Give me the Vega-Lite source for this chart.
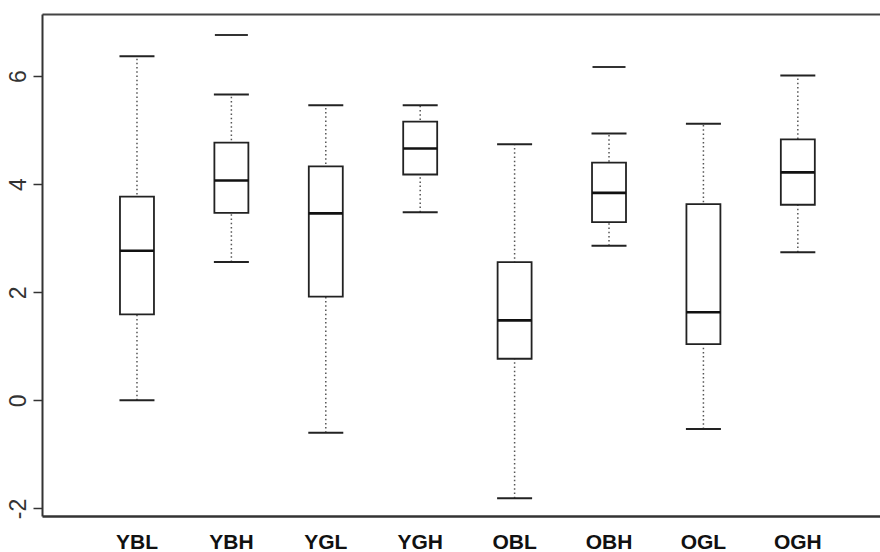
{
  "$schema": "https://vega.github.io/schema/vega-lite/v6.json",
  "autosize": {"type": "none"},
  "padding": {"left": 42, "top": 14, "right": 0, "bottom": 36},
  "width": 838,
  "height": 502,
  "background": "white",
  "config": {"view": {"stroke": "transparent", "strokeWidth": 0}},
  "data": {"values": [
    {"g": "YBL", "lo": 0.0, "q1": 1.59, "med": 2.77, "q3": 3.77, "hi": 6.37},
    {"g": "YBH", "lo": 2.56, "q1": 3.47, "med": 4.07, "q3": 4.77, "hi": 5.66},
    {"g": "YGL", "lo": -0.6, "q1": 1.92, "med": 3.46, "q3": 4.33, "hi": 5.46},
    {"g": "YGH", "lo": 3.48, "q1": 4.18, "med": 4.66, "q3": 5.16, "hi": 5.46},
    {"g": "OBL", "lo": -1.81, "q1": 0.77, "med": 1.48, "q3": 2.56, "hi": 4.74},
    {"g": "OBH", "lo": 2.86, "q1": 3.3, "med": 3.84, "q3": 4.4, "hi": 4.94},
    {"g": "OGL", "lo": -0.53, "q1": 1.04, "med": 1.63, "q3": 3.63, "hi": 5.12},
    {"g": "OGH", "lo": 2.74, "q1": 3.62, "med": 4.22, "q3": 4.83, "hi": 6.01}
  ]},
  "resolve": {"axis": {"x": "independent"}},
  "layer": [
    {
      "mark": {"type": "rule", "color": "#555", "strokeWidth": 1.5, "strokeDash": [1.5, 2.7]},
      "encoding": {
        "x": {"field": "g", "type": "nominal", "sort": ["YBL", "YBH", "YGL", "YGH", "OBL", "OBH", "OGL", "OGH"], "title": null,
              "scale": {"type": "band", "range": [0, 850.8], "paddingInner": 0.64, "paddingOuter": 0.826},
              "axis": {"orient": "bottom", "labelAngle": 0, "ticks": false, "tickSize": 0, "labelPadding": 15,
                       "labelFont": "Liberation Sans", "labelFontWeight": "bold", "labelFontSize": 21, "labelColor": "#111",
                       "domain": true, "domainColor": "#333", "domainWidth": 2.5}},
        "y": {"field": "lo", "type": "quantitative", "title": null,
              "scale": {"domain": [-2.14, 7.15], "nice": false, "zero": false},
              "axis": {"values": [-2, 0, 2, 4, 6], "grid": false, "labelAngle": 270, "labelAlign": "center", "labelBaseline": "bottom",
                       "labelExpr": "datum.value < 0 ? '-' + abs(datum.value) : '' + datum.value",
                       "labelFont": "Liberation Sans", "labelFontSize": 23, "labelColor": "#333", "labelPadding": 3,
                       "tickSize": 9, "tickWidth": 1.5, "tickColor": "#333", "domainColor": "#333", "domainWidth": 2}},
        "y2": {"field": "hi"}
      }
    },
    {
      "mark": {"type": "bar", "fill": "white", "stroke": "#222", "strokeWidth": 1.8},
      "encoding": {
        "x": {"field": "g", "type": "nominal", "sort": ["YBL", "YBH", "YGL", "YGH", "OBL", "OBH", "OGL", "OGH"], "title": null,
              "scale": {"type": "band", "range": [0, 850.8], "paddingInner": 0.64, "paddingOuter": 0.826},
              "axis": {"orient": "top", "labels": false, "ticks": false, "tickSize": 0, "domain": true, "domainColor": "#444", "domainWidth": 2}},
        "y": {"field": "q1", "type": "quantitative", "title": null,
              "scale": {"domain": [-2.14, 7.15], "nice": false, "zero": false}},
        "y2": {"field": "q3"}
      }
    },
    {
      "mark": {"type": "tick", "color": "#111", "size": 34, "thickness": 2.6, "opacity": 1},
      "encoding": {
        "x": {"field": "g", "type": "nominal", "sort": ["YBL", "YBH", "YGL", "YGH", "OBL", "OBH", "OGL", "OGH"], "title": null,
              "scale": {"type": "band", "range": [0, 850.8], "paddingInner": 0.64, "paddingOuter": 0.826}, "axis": null},
        "y": {"field": "med", "type": "quantitative", "title": null,
              "scale": {"domain": [-2.14, 7.15], "nice": false, "zero": false}}
      }
    },
    {
      "mark": {"type": "tick", "color": "#222", "size": 35, "thickness": 2, "opacity": 1},
      "encoding": {
        "x": {"field": "g", "type": "nominal", "sort": ["YBL", "YBH", "YGL", "YGH", "OBL", "OBH", "OGL", "OGH"], "title": null,
              "scale": {"type": "band", "range": [0, 850.8], "paddingInner": 0.64, "paddingOuter": 0.826}, "axis": null},
        "y": {"field": "hi", "type": "quantitative", "title": null,
              "scale": {"domain": [-2.14, 7.15], "nice": false, "zero": false}}
      }
    },
    {
      "mark": {"type": "tick", "color": "#222", "size": 35, "thickness": 2, "opacity": 1},
      "encoding": {
        "x": {"field": "g", "type": "nominal", "sort": ["YBL", "YBH", "YGL", "YGH", "OBL", "OBH", "OGL", "OGH"], "title": null,
              "scale": {"type": "band", "range": [0, 850.8], "paddingInner": 0.64, "paddingOuter": 0.826}, "axis": null},
        "y": {"field": "lo", "type": "quantitative", "title": null,
              "scale": {"domain": [-2.14, 7.15], "nice": false, "zero": false}}
      }
    },
    {
      "data": {"values": [
        {"g": "YBH", "v": 6.76},
        {"g": "OBH", "v": 6.17}
      ]},
      "mark": {"type": "tick", "color": "#333", "size": 33, "thickness": 2, "opacity": 1},
      "encoding": {
        "x": {"field": "g", "type": "nominal", "sort": ["YBL", "YBH", "YGL", "YGH", "OBL", "OBH", "OGL", "OGH"], "title": null,
              "scale": {"type": "band", "range": [0, 850.8], "paddingInner": 0.64, "paddingOuter": 0.826}, "axis": null},
        "y": {"field": "v", "type": "quantitative", "title": null,
              "scale": {"domain": [-2.14, 7.15], "nice": false, "zero": false}}
      }
    }
  ]
}
